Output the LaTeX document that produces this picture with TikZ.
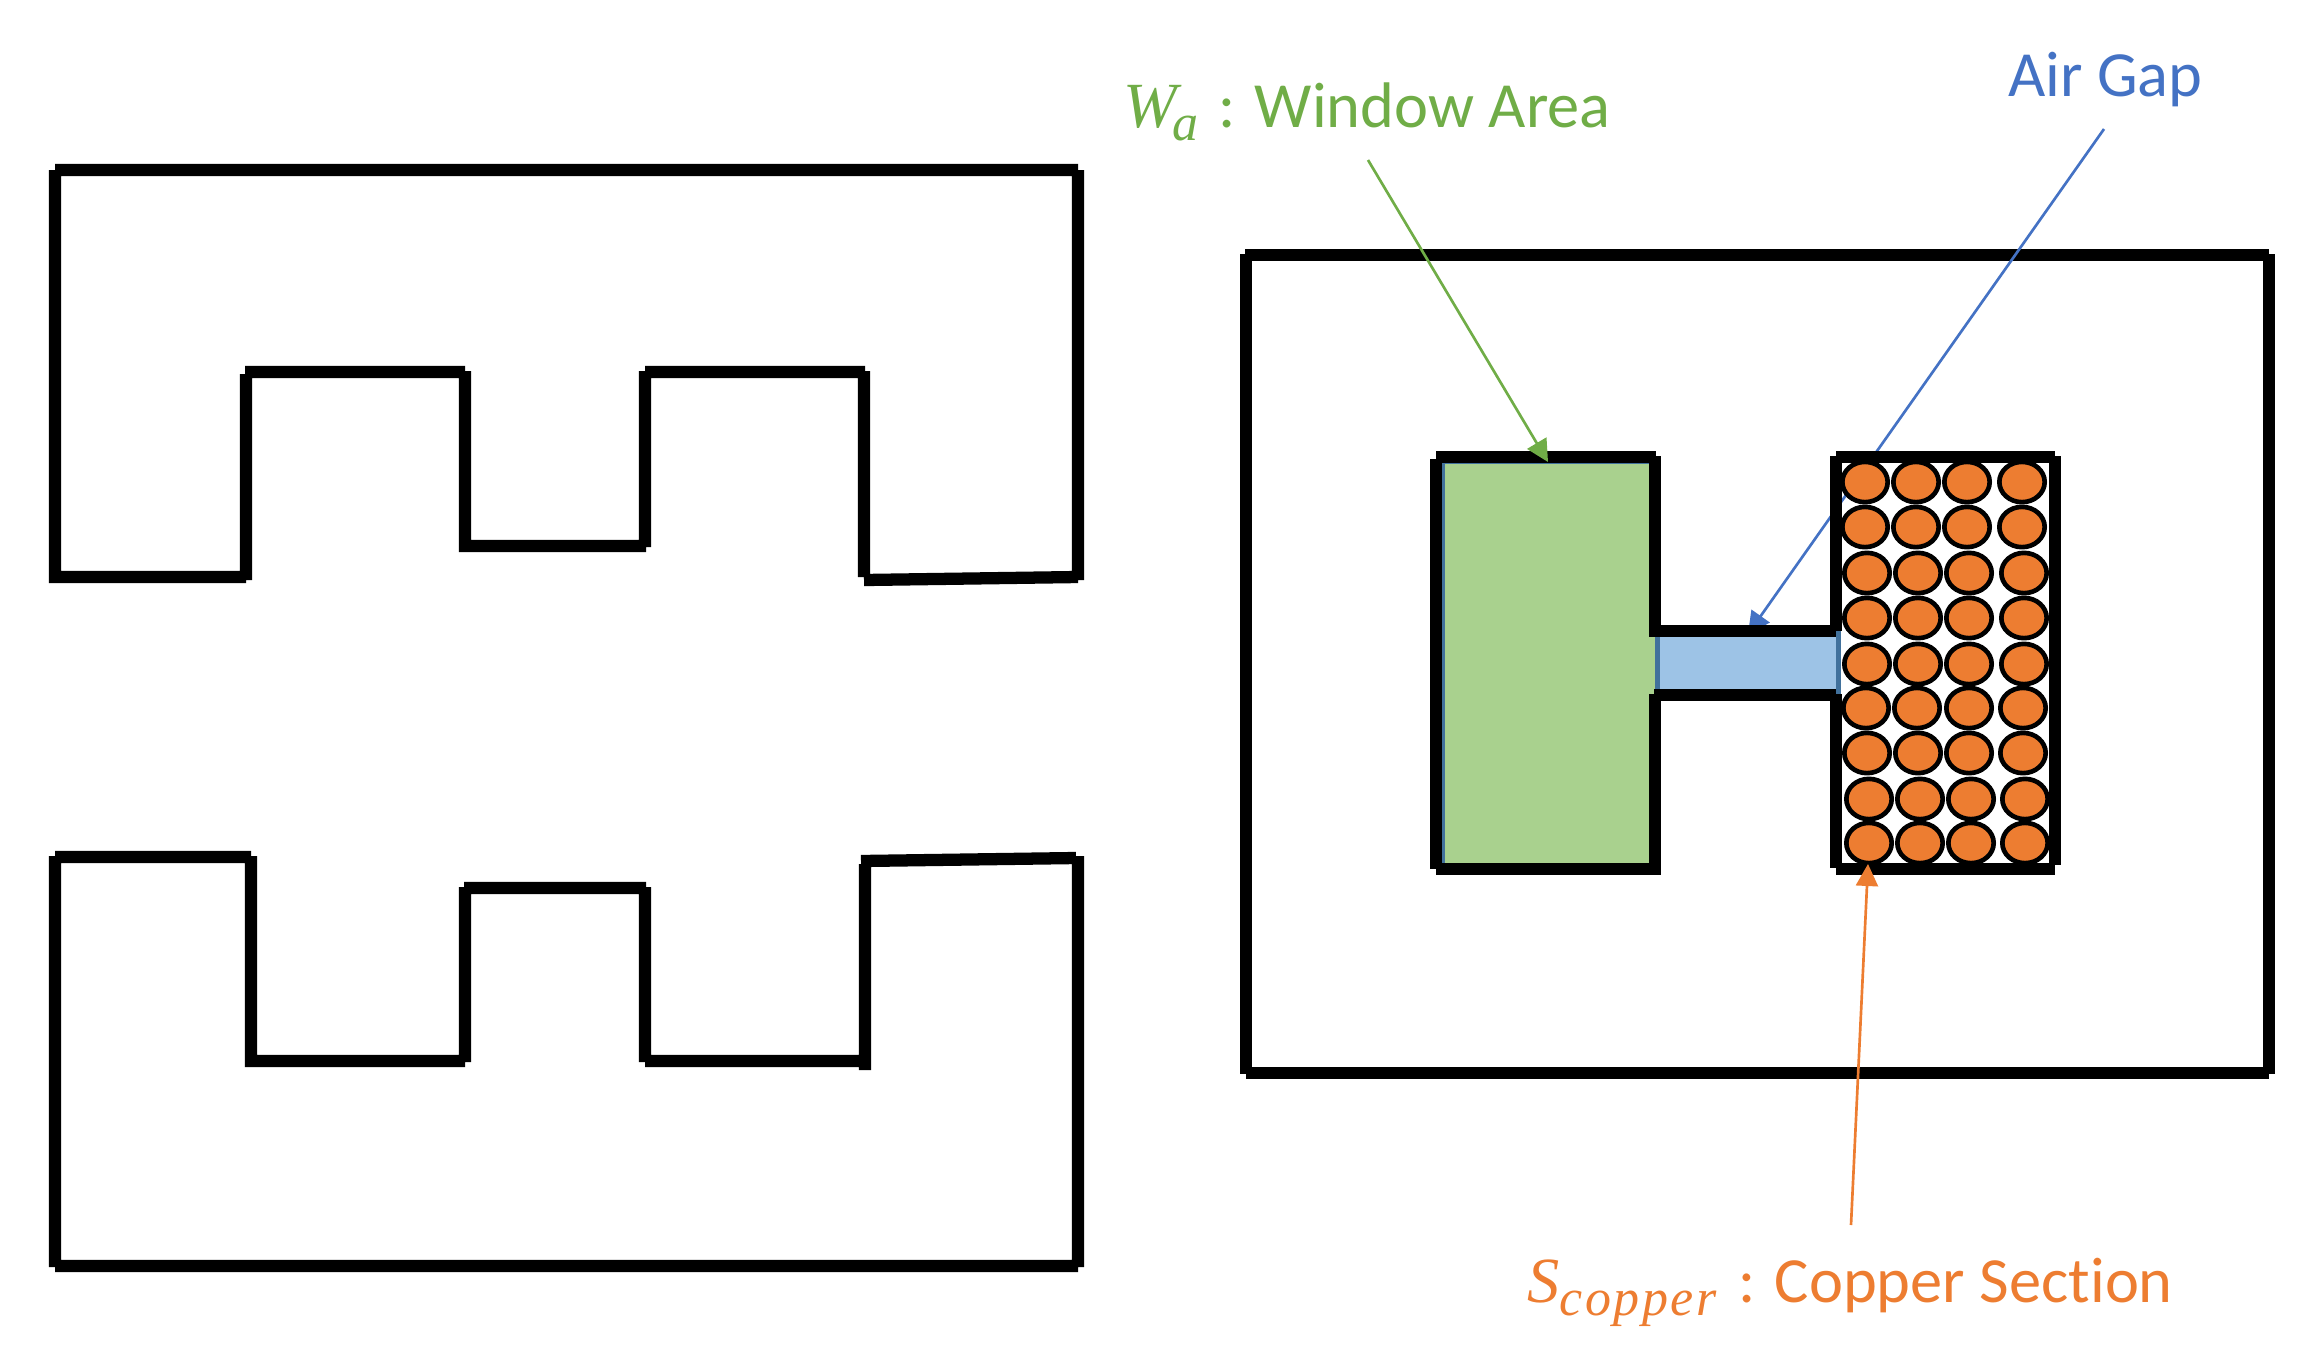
\documentclass[tikz,border=0pt]{standalone}
\usepackage{fontspec}
\setmainfont{Carlito}[Ligatures=NoCommon]
\newfontfamily\mathserif{Liberation Serif}[Ligatures=NoCommon]
\usetikzlibrary{arrows.meta}
\definecolor{cgreen}{HTML}{70AD47}
\definecolor{cblue}{HTML}{4472C4}
\definecolor{corange}{HTML}{ED7D31}
\definecolor{cwindow}{HTML}{A9D18E}
\definecolor{cair}{HTML}{9DC3E6}
\definecolor{cedge}{HTML}{41719C}
\tikzset{
  core/.style={draw=black,line width=9.2pt,line cap=butt},
  wire/.style={draw=black,fill=corange,line width=3.5pt},
  leader/.style={line width=2pt,-{Triangle[length=16.5pt,width=16.5pt]}},
  caption/.style={inner sep=0pt,anchor=base west,font=\fontsize{48.3}{58}\selectfont},
}
\newcommand{\mvar}[1]{{\mathserif\itshape #1}}
\newcommand{\msub}[1]{\raisebox{-9.75pt}{\fontsize{39}{44}\selectfont\mathserif\itshape\addfontfeature{LetterSpace=5}#1}}
\begin{document}
\begin{tikzpicture}[x=0.75pt,y=-0.75pt]
\useasboundingbox (0,0) rectangle (2324,1361);
% connector ends
\coordinate (gtail) at (1368,160);
\coordinate (gtip) at (1548,462);
\coordinate (btail) at (2104,129);
\coordinate (btip) at (1748,634);
\coordinate (otail) at (1851,1225);
\coordinate (otip) at (1868,864);
% upper core
\draw[core] (55,170)--(1078,170) (55,170)--(55,583) (49,577)--(246,577)
  (246,374)--(246,580) (245,372)--(465,372) (465,371)--(465,552)
  (459,546)--(646,546) (645,371)--(645,547) (645,372)--(865,372)
  (864,371)--(864,577) (864,580)--(1078,577) (1078,170)--(1078,580);
% lower core
\draw[core] (55,857)--(251,857) (55,856)--(55,1267) (251,856)--(251,1067)
  (245,1061)--(465,1061) (465,887)--(465,1062) (464,888)--(646,888)
  (645,887)--(645,1062) (645,1061)--(865,1061) (865,864)--(865,1070)
  (861,861)--(1076,858) (1078,856)--(1078,1267) (55,1266)--(1078,1266);
% outer rectangle of assembled core
\draw[core] (1245,255)--(2269,255) (1246,254)--(1246,1074)
  (2269,254)--(2269,1074) (1246,1073)--(2269,1073);
% air gap leader, passes behind the copper
\draw[leader,cblue] (btail)--(btip);
% window
\fill[cwindow] (1443,463) rectangle (1656,864);
\draw[cedge,line width=1.9pt] (1443.5,869)--(1443.5,462.5)--(1649,462.5);
% copper turns
\foreach \cy/\ca/\cb/\cc/\cd in {482/1865/1916/1967/2022,527/1865/1916/1967/2022,
    573/1867/1918/1969/2024,618/1867/1918/1969/2024,664/1867/1918/1969/2024,
    708/1866/1917/1969/2023,753/1867/1918/1969/2023,799/1869/1920/1971/2025,843/1869/1920/1971/2025}{
  \foreach \cx in {\ca,\cb,\cc,\cd}{
    \draw[wire] (\cx,\cy) ellipse [x radius=17pt,y radius=15.1pt];
  }
}
% air gap
\fill[cair] (1656,631) rectangle (1839,694);
\draw[cedge,line width=3.75pt] (1657,637)--(1657,689) (1838.5,631)--(1838.5,694);
% window and copper outlines
\draw[core] (1436,457)--(1656,457) (1436,459)--(1436,869) (1436,869)--(1656,869)
  (1655,456)--(1655,637) (1655,694)--(1655,875)
  (1649,631)--(1836,631) (1654,695)--(1836,695)
  (1836,457)--(2055,457) (1836,456)--(1836,631) (1836,694)--(1836,868)
  (1836,869)--(2055,869) (2055,456)--(2055,865);
% leaders
\draw[leader,cgreen] (gtail)--(gtip);
\draw[leader,corange] (otail)--(otip);
% labels
\node[caption,text=cgreen] (lwindow) at (1123,127) {\mvar{W}\hspace{-3pt}\msub{a}\hspace{14.5pt}: Window Area};
\node[caption,text=cblue] (lgap) at (2008,96) {Air Gap};
\node[caption,text=corange] (lcopper) at (1527,1302) {\mvar{S}\msub{copper}\hspace{16pt}: Copper Section};
\end{tikzpicture}
\end{document}
